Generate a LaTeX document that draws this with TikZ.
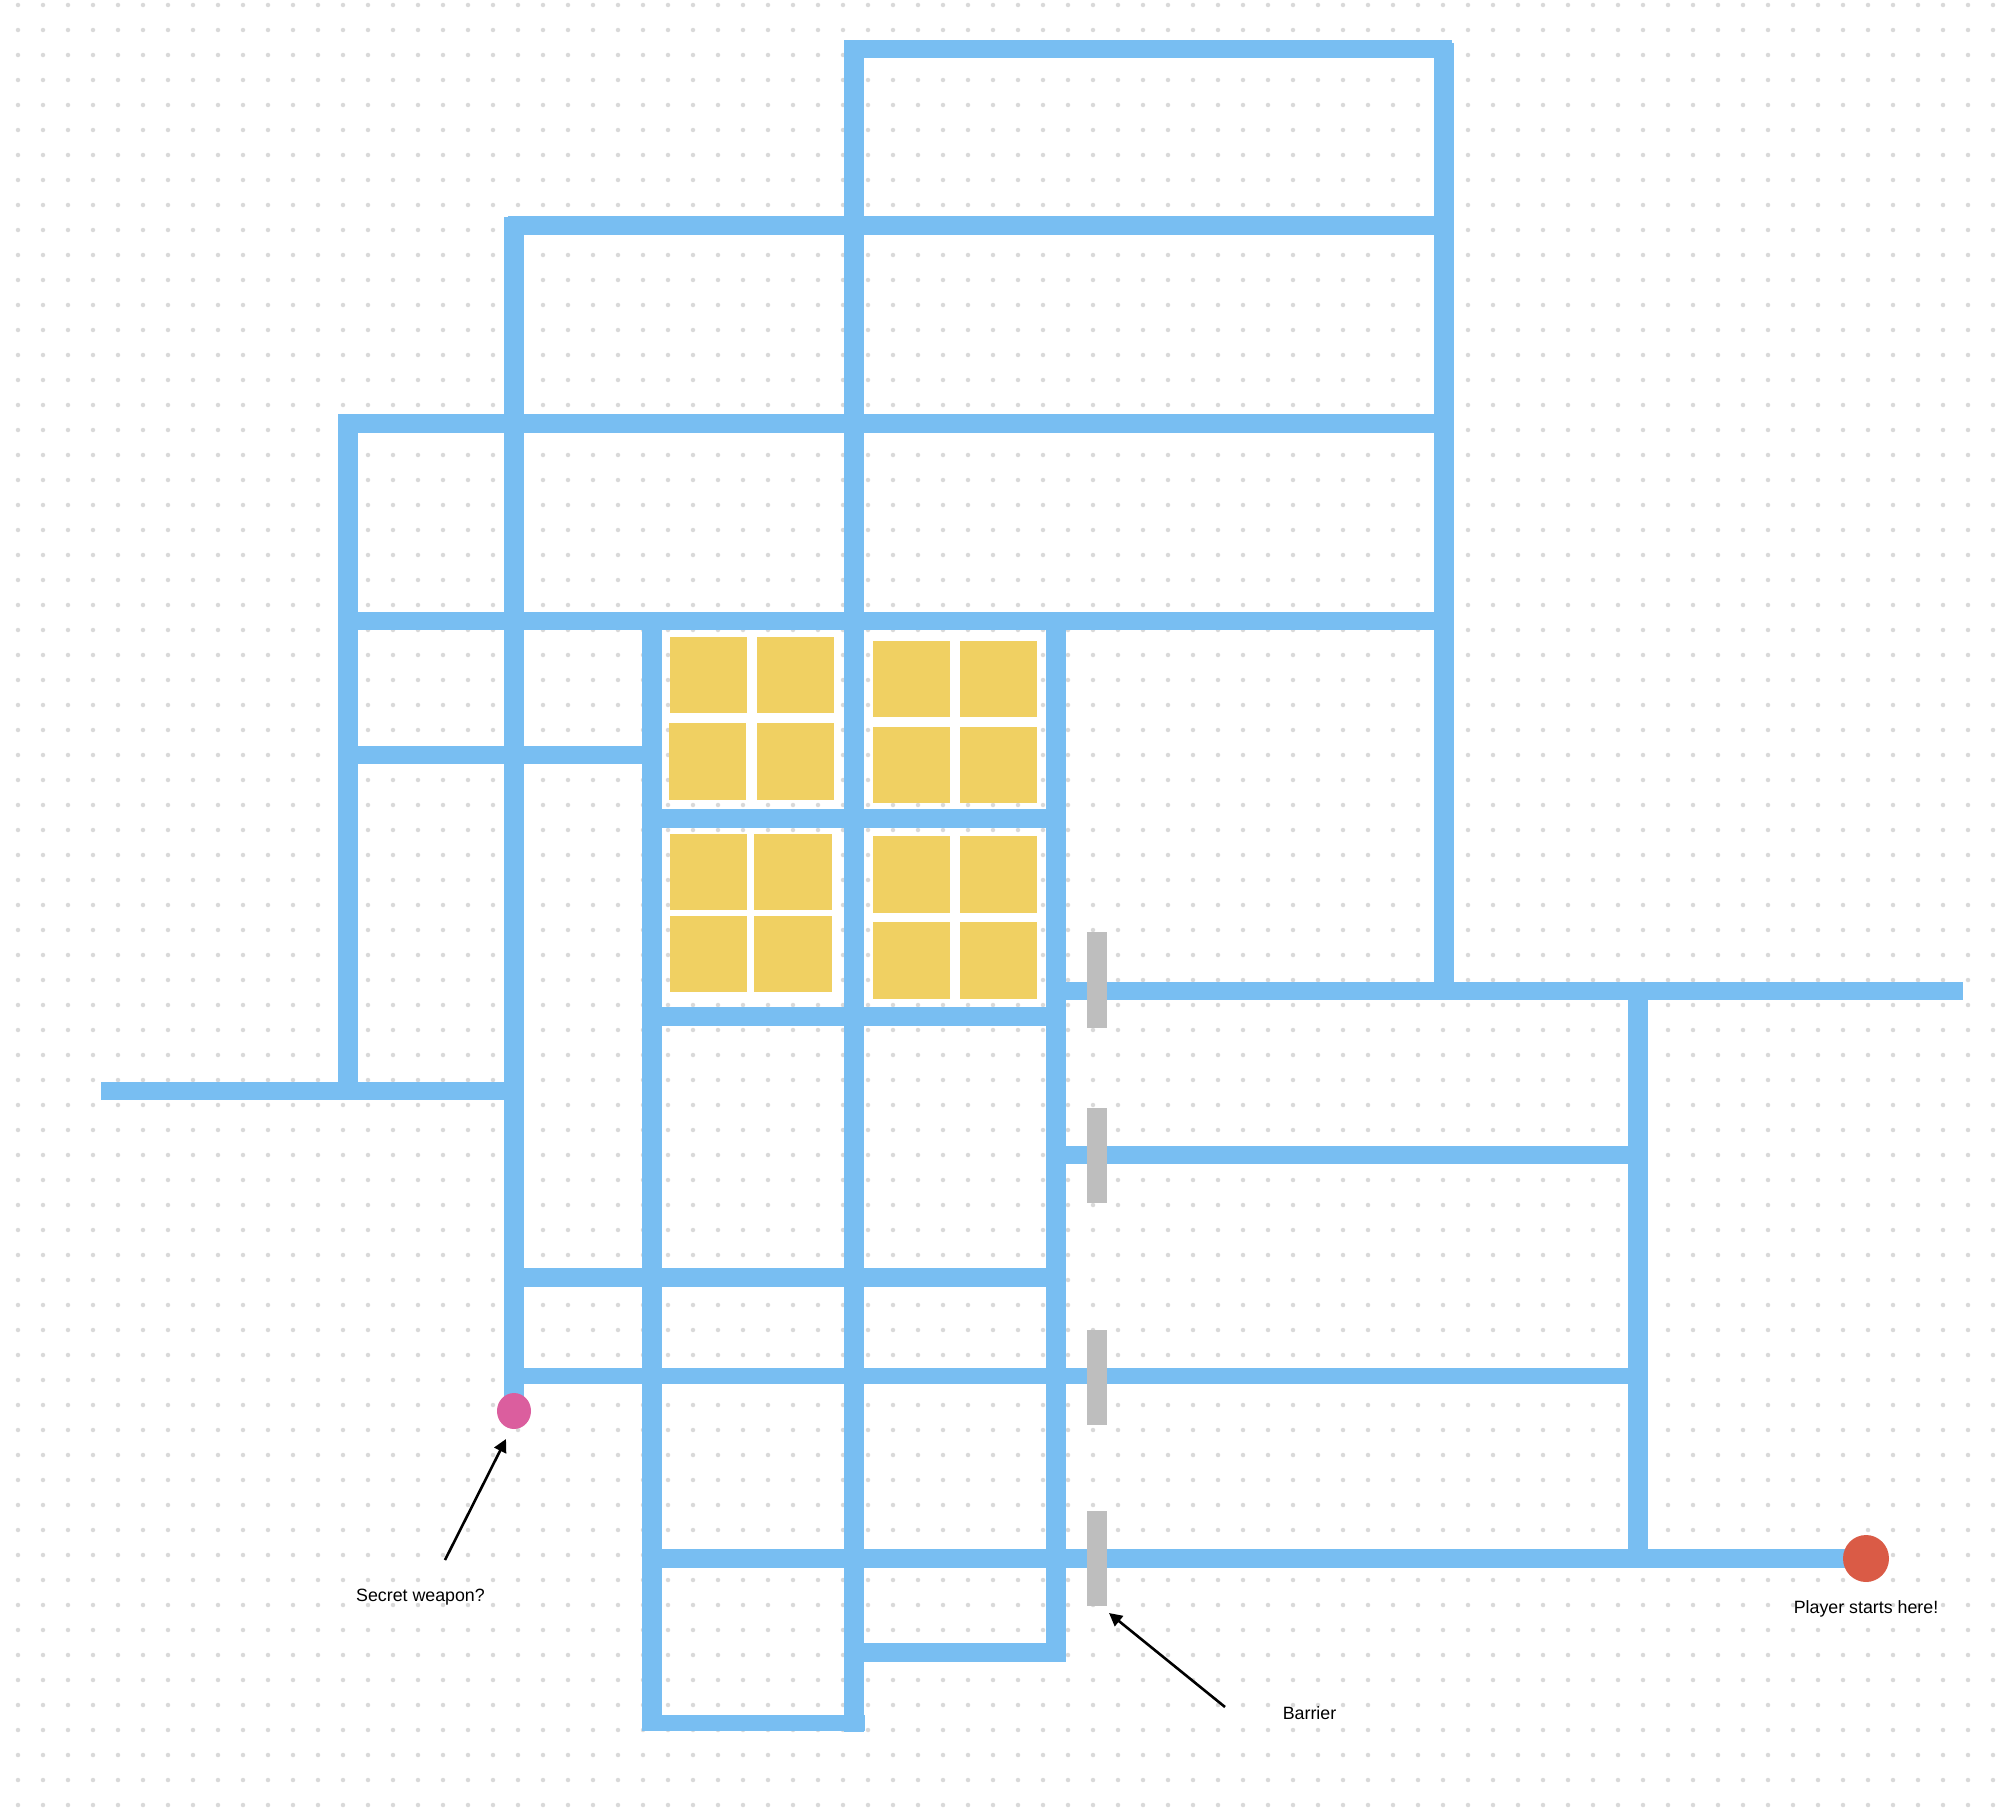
\documentclass[tikz,border=0pt]{standalone}
\usepackage{fontspec}
\setmainfont{Liberation Sans}
\usetikzlibrary{arrows.meta, shapes.geometric}
\definecolor{wallblue}{HTML}{78BEF2}
\definecolor{goldfill}{HTML}{F0D062}
\definecolor{barriergray}{HTML}{BEBEBE}
\definecolor{dotgray}{HTML}{D9D9D9}
\definecolor{secretpink}{HTML}{DB5E9E}
\definecolor{playerred}{HTML}{DA5B46}
\begin{document}
\begin{tikzpicture}
	[
	x=1pt, y=-1pt,
	wall/.style={draw = wallblue, line width = #1},
	wall/.default=19pt,
	gold/.style={fill = goldfill, shape = rectangle, inner sep = 0pt, minimum width = 77pt, minimum height = 76.5pt},
	barrier/.style={fill = barriergray, shape = rectangle, inner sep = 0pt, minimum width = 20pt, minimum height = 95.5pt},
	pointer/.style={draw = black, line width = 2.6pt, -{Triangle[length=13pt, width=13pt]}},
	lbl/.style={anchor = base, inner sep = 0pt, font = \fontsize{17.8}{20}\selectfont}
	]
	\path[use as bounding box, fill = white] (0,0) rectangle (2014,1820);
	
	% Dot grid
	\foreach \dx in {0,...,79}
		\foreach \dy in {0,...,72}
			\fill[dotgray] (18+25*\dx, 5+25*\dy) circle (2.25pt);
	
	% From top to bottom
	\draw[wall=18pt] (844,49) -- (1452,49);
	\draw[wall] (508,225.5) -- (1444,225.5);
	\draw[wall] (338,423.5) -- (1444,423.5);
	\draw[wall=18pt] (338,621) -- (1444,621);
	\draw[wall=18pt] (348,755) -- (652,755);
	\draw[wall] (652,818.5) -- (1056,818.5);
	\draw[wall=18pt] (1056,991) -- (1963,991);
	\draw[wall] (652,1016.5) -- (1056,1016.5);
	\draw[wall=18pt] (101,1091) -- (514,1091);
	\draw[wall=18pt] (1056,1155) -- (1638,1155);
	\draw[wall] (514,1277.5) -- (1056,1277.5);
	\draw[wall=16pt] (514,1376) -- (1638,1376);
	\draw[wall] (652,1558.5) -- (1866,1558.5);
	\draw[wall] (854,1652.5) -- (1066,1652.5);
	\draw[wall=16pt] (642,1723) -- (865,1723);
	
	% From left to right
	\draw[wall=20pt] (348,414) -- (348,1100);
	\draw[wall=20pt] (514,217) -- (514,1400);
	\draw[wall=20pt] (652,612) -- (652,1731);
	\draw[wall=20pt] (854,40) -- (854,1732);
	\draw[wall=20pt] (1056,612) -- (1056,1662);
	\draw[wall=20pt] (1444,43) -- (1444,1000);
	\draw[wall=20pt] (1638,982) -- (1638,1568);
	
	% Gold blocks
	\node[gold](a1) at (708.5,675){};
	\node[gold](a2) at (795.5,675){};
	\node[gold](a3) at (707.5,761.5){};
	\node[gold](a4) at (795.5,761.5){};
	\node[gold](b1) at (911.5,679){};
	\node[gold](b2) at (998.5,679){};
	\node[gold](b3) at (911.5,765){};
	\node[gold](b4) at (998.5,765){};
	\node[gold](c1) at (708.5,872){};
	\node[gold, minimum width = 78pt](c2) at (793,872){};
	\node[gold](c3) at (708.5,954){};
	\node[gold, minimum width = 78pt](c4) at (793,954){};
	\node[gold](d1) at (911.5,874.5){};
	\node[gold](d2) at (998.5,874.5){};
	\node[gold](d3) at (911.5,960.5){};
	\node[gold](d4) at (998.5,960.5){};
	
	% Barriers
	\node[barrier](bar1) at (1097,980){};
	\node[barrier](bar2) at (1097,1155.5){};
	\node[barrier](bar3) at (1097,1377.5){};
	\node[barrier](bar4) at (1097,1558.5){};
	
	% Secret weapon and player
	\node[fill = secretpink, shape = ellipse, inner sep = 0pt, minimum width = 34pt, minimum height = 36pt](secret) at (514,1411){};
	\node[fill = playerred, shape = ellipse, inner sep = 0pt, minimum width = 46pt, minimum height = 47pt](player) at (1866,1558.5){};
	
	\node[lbl](secretlabel) at (420.5,1601){Secret weapon?};
	\node[lbl](playerlabel) at (1866,1613){Player starts here!};
	\node[lbl](barrierlabel) at (1309.5,1719){Barrier};
	
	\coordinate (secretfrom) at (445,1560);
	\coordinate (secretto) at (506,1439);
	\coordinate (barrierfrom) at (1225,1707);
	\coordinate (barrierto) at (1109,1613);
	
	\draw[pointer] (secretfrom) -- (secretto);
	\draw[pointer] (barrierfrom) -- (barrierto);
\end{tikzpicture}
\end{document}
